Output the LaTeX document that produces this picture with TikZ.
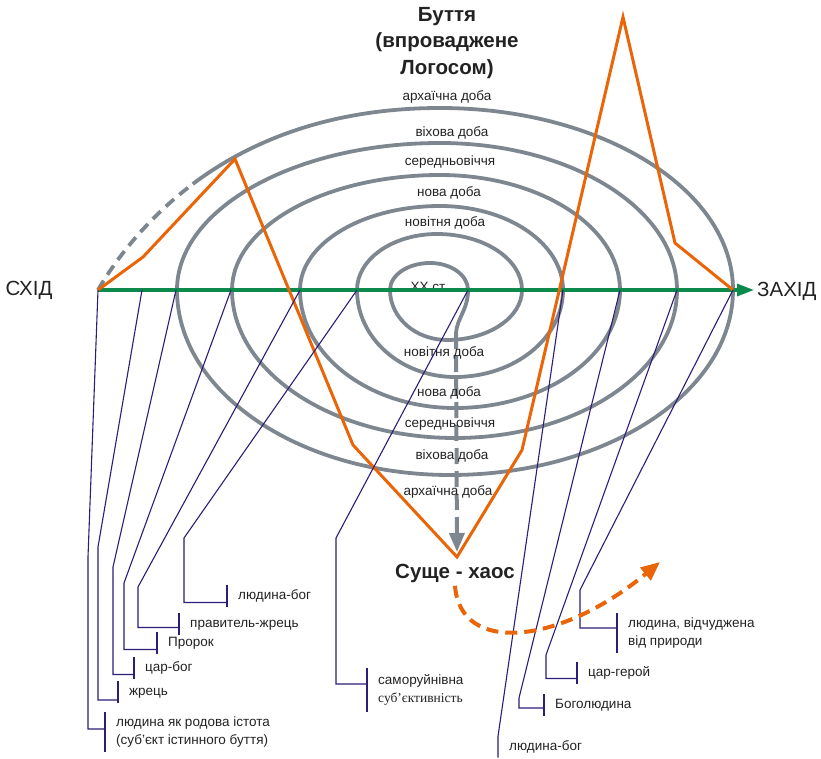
\documentclass[tikz,border=0pt]{standalone}
\usepackage{fontspec}
\setmainfont{Liberation Sans}
\newfontfamily\serifpart{Liberation Serif}
\usepackage{tikz}
\usetikzlibrary{arrows.meta,positioning}
\definecolor{spiralgray}{HTML}{7E878F}
\definecolor{pathorange}{HTML}{EA6508}
\definecolor{axisgreen}{HTML}{0B8A4C}
\definecolor{leadblue}{HTML}{2E1C78}
\definecolor{inkgray}{HTML}{222222}

\begin{document}
\begin{tikzpicture}[
  x=1pt, y=-1pt,
  myring/.style={draw=spiralgray, line width=3.8pt},
  mypath/.style={draw=pathorange, line width=3pt},
  myleader/.style={draw=leadblue, line width=1.1pt},
  mytag/.style={anchor=west, inner xsep=11pt, inner ysep=4pt, text height=10pt, text depth=3pt, text=inkgray, font=\fontsize{13.5}{18}\selectfont},
  mytagtwo/.style={anchor=west, align=left, inner xsep=11pt, inner ysep=4.5pt, text=inkgray, font=\fontsize{13.5}{18}\selectfont},
  myera/.style={inner sep=1pt, text=inkgray, font=\fontsize{13.5}{16}\selectfont},
  mytitle/.style={align=center, text=inkgray, font=\bfseries\fontsize{20.5}{26.5}\selectfont},
  myside/.style={text=inkgray, font=\fontsize{20.5}{24}\selectfont}
]
\useasboundingbox (0,0) rectangle (821,759);

\coordinate (s1) at (98,290);
\coordinate (s2) at (142,290);
\coordinate (s3) at (176,290);
\coordinate (s4) at (231,290);
\coordinate (s5) at (300,290);
\coordinate (s6) at (357,290);
\coordinate (s7) at (468,290);
\coordinate (s8) at (563,290);
\coordinate (s9) at (620,290);
\coordinate (s10) at (677,290);
\coordinate (s11) at (733,290);
\coordinate (e1) at (88,557);
\coordinate (e2) at (98,547);
\coordinate (e3) at (113,567);
\coordinate (e4) at (124,583);
\coordinate (e5) at (138,587);
\coordinate (e6) at (184,538);
\coordinate (e7) at (336,538);
\coordinate (e9) at (519,698);
\coordinate (e10) at (546,655);
\coordinate (e11) at (580,590);
\coordinate (c0) at (456,333);
\coordinate (chaos) at (457,557);
\coordinate (future) at (660,562);

\draw[myring, dash pattern=on 11pt off 7pt] (s1) .. controls (116,259) and (146.6,219) .. (192.8,184);
\draw[myring] (192.8,184) .. controls (249.6,141.2) and (330,108) .. (440,108)
  arc[start angle=90,end angle=0,x radius=293pt,y radius=182pt]
  arc[start angle=0,end angle=-90,x radius=283pt,y radius=185pt]
  arc[start angle=-90,end angle=-180,x radius=273pt,y radius=185pt]
  arc[start angle=180,end angle=90,x radius=263pt,y radius=147pt]
  arc[start angle=90,end angle=0,x radius=237pt,y radius=147pt]
  arc[start angle=0,end angle=-90,x radius=222pt,y radius=148pt]
  arc[start angle=-90,end angle=-180,x radius=223pt,y radius=148pt]
  arc[start angle=180,end angle=90,x radius=208pt,y radius=115pt]
  arc[start angle=90,end angle=0,x radius=180pt,y radius=115pt]
  arc[start angle=0,end angle=-90,x radius=165pt,y radius=118pt]
  arc[start angle=-90,end angle=-180,x radius=155pt,y radius=118pt]
  arc[start angle=180,end angle=90,x radius=140pt,y radius=84pt]
  arc[start angle=90,end angle=0,x radius=123pt,y radius=84pt]
  arc[start angle=0,end angle=-90,x radius=108pt,y radius=87pt]
  arc[start angle=-90,end angle=-180,x radius=98pt,y radius=87pt]
  arc[start angle=180,end angle=90,x radius=80pt,y radius=56pt]
  arc[start angle=90,end angle=0,x radius=85pt,y radius=56pt]
  arc[start angle=0,end angle=-90,x radius=75pt,y radius=50pt]
  arc[start angle=-90,end angle=-180,x radius=57pt,y radius=50pt]
  arc[start angle=180,end angle=90,x radius=40pt,y radius=27pt]
  arc[start angle=90,end angle=0,x radius=38pt,y radius=27pt]
  .. controls (468,310) and (457,318) .. (c0);
\draw[myring, line width=4pt, dash pattern=on 16pt off 7pt, shorten >=5pt, -{Triangle[length=19pt,width=15pt]}] (c0) -- (chaos);

\node[mytitle] (buttia) at (447,43) {Буття\\(впроваджене\\Логосом)};
\node[mytitle] (khaos) at (455,573) {Суще - хаос};
\node[myside] (skhid) at (29,290) {СХІД};
\node[myside, anchor=west, inner sep=3pt] (zakhid) at (754,291) {ЗАХІД};

\node[myera] (u1) at (447,97) {архаїчна доба};
\node[myera] (u2) at (452,133) {віхова доба};
\node[myera] (u3) at (450,162) {середньовіччя};
\node[myera] (u4) at (449,193) {нова доба};
\node[myera] (u5) at (445,223) {новітня доба};
\node[myera] (xx) at (429,287) {XX ст.};
\node[myera] (d5) at (444,353) {новітня доба};
\node[myera] (d4) at (449,393) {нова доба};
\node[myera] (d3) at (450,424) {середньовіччя};
\node[myera] (d2) at (452,456) {віхова доба};
\node[myera] (d1) at (448,492) {архаїчна доба};

\node[mytagtwo] (t1) at (105,732) {людина як родова істота\\(суб’єкт істинного буття)};
\node[mytag] (t2) at (118,692) {жрець};
\node[mytag] (t3) at (134,668) {цар-бог};
\node[mytag] (t4) at (157,643) {Пророк};
\node[mytag] (t5) at (179,624) {правитель-жрець};
\node[mytag] (t6) at (227,596) {людина-бог};
\node[mytagtwo, inner ysep=6.5pt] (t7) at (367,690) {саморуйнівна\\{\serifpart суб’єктивність}};
\node[mytag] (t8) at (498,747) {людина-бог};
\node[mytag] (t9) at (544,705) {Боголюдина};
\node[mytag] (t10) at (577,673) {цар-герой};
\node[mytagtwo] (t11) at (617,633) {людина, відчуджена\\від природи};

\draw[axisgreen, line width=3.2pt, -{Triangle[length=17pt,width=12pt]}] (s1) -- (s1 -| zakhid.west);

\draw[mypath] (s1) -- (143,257) -- (235,159) -- (353,445) -- (chaos) -- (522,450) -- (623,17) -- (675,243) -- (s11);

\draw[myleader] (s1) -- (e1) |- ([yshift=3pt]t1.west);
\draw[myleader] (s2) -- (e2) |- ([yshift=-8pt]t2.west);
\draw[myleader] (s3) -- (e3) |- ([yshift=-6.5pt]t3.west);
\draw[myleader] (s4) -- (e4) |- ([yshift=-6.5pt]t4.west);
\draw[myleader] (s5) -- (e5) |- ([yshift=-3.5pt]t5.west);
\draw[myleader] (s6) -- (e6) |- ([yshift=-6.5pt]t6.west);
\draw[myleader] (s7) -- (e7) |- ([yshift=6pt]t7.west);
\draw[myleader] (s8) -- (t8.north west) -- (t8.south west);
\draw[myleader] (s9) -- (e9) |- ([yshift=-3pt]t9.west);
\draw[myleader] (s10) -- (e10) |- ([yshift=-5.5pt]t10.west);
\draw[myleader] (s11) -- (e11) |- ([yshift=5pt]t11.west);
\draw[myleader] (t1.north west) -- (t1.south west);
\draw[myleader] (t2.north west) -- (t2.south west);
\draw[myleader] (t3.north west) -- (t3.south west);
\draw[myleader] (t4.north west) -- (t4.south west);
\draw[myleader] (t5.north west) -- (t5.south west);
\draw[myleader] (t6.north west) -- (t6.south west);
\draw[myleader] (t7.north west) -- (t7.south west);
\draw[myleader] (t9.north west) -- (t9.south west);
\draw[myleader] (t10.north west) -- (t10.south west);
\draw[myleader] (t11.north west) -- (t11.south west);

\draw[pathorange, line width=4pt, dash pattern=on 12pt off 7pt, -{Triangle[length=19pt,width=16pt]}] (khaos.south) .. controls (460,655) and (560,645) .. (future);
\end{tikzpicture}
\end{document}
